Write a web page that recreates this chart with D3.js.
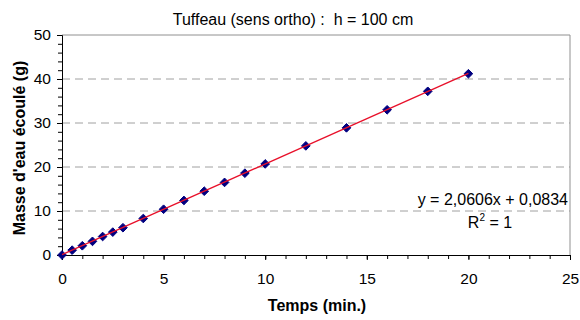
<!DOCTYPE html>
<html><head><meta charset="utf-8">
<script src="https://cdn.jsdelivr.net/npm/d3@7"></script>
<style>body{margin:0;background:#fff}svg{display:block}text{font-family:"Liberation Sans",Arial,sans-serif;white-space:pre}</style>
</head><body><svg id="c" width="580" height="320"></svg>
<script>
const title = "Tuffeau (sens ortho) :  h = 100 cm";
const xLabel = "Temps (min.)";
const yLabel = "Masse d'eau écoulé (g)";
const xTicks = [0, 5, 10, 15, 20, 25];
const yTicks = [0, 10, 20, 30, 40, 50];
const times = [0, 0.5, 1, 1.5, 2, 2.5, 3, 4, 5, 6, 7, 8, 9, 10, 12, 14, 16, 18, 20];
const masses = [0, 1.1, 2.1, 3.1, 4.2, 5.2, 6.2, 8.3, 10.4, 12.4, 14.5, 16.5, 18.6, 20.7, 24.8, 28.9, 33.0, 37.2, 41.2];
const slope = 2.0606, intercept = 0.0834;
const eqText = "y = 2,0606x + 0,0834";

const svg = d3.select("#c");
const L = 62, R = 570, T = 35, B = 255;
const x = d3.scaleLinear().domain([0, 25]).range([L, R]);
const y = d3.scaleLinear().domain([0, 50]).range([B, T]);

// grid
svg.append("g").selectAll("line").data(yTicks.filter(d => d > 0 && d < 50)).join("line")
  .attr("x1", L).attr("x2", R).attr("y1", d => y(d)).attr("y2", d => y(d))
  .attr("stroke", "#a0a0a0").attr("stroke-width", 1).attr("stroke-dasharray", "8,5");
// plot border top/right
svg.append("path").attr("d", `M${L},${T}H${R}V${B}`).attr("fill", "none").attr("stroke", "#909090").attr("stroke-width", 1);

// axes
const xMinor = d3.range(0, 26, 1);
const yMinor = d3.range(0, 51, 2);
const gx = svg.append("g").attr("transform", `translate(0,${B})`);
gx.call(d3.axisBottom(x).tickValues(xMinor).tickSize(4).tickFormat(""));
const gx2 = svg.append("g").attr("transform", `translate(0,${B})`);
gx2.call(d3.axisBottom(x).tickValues(xTicks).tickSize(5).tickPadding(13).tickFormat(d3.format("d")));
gx2.select(".domain").remove();
gx2.selectAll("text").attr("font-size", 15.5).attr("fill", "#000");

const gy = svg.append("g").attr("transform", `translate(${L},0)`);
gy.call(d3.axisLeft(y).tickValues(yMinor).tickSize(4).tickFormat(""));
const gy2 = svg.append("g").attr("transform", `translate(${L},0)`);
gy2.call(d3.axisLeft(y).tickValues(yTicks).tickSize(5).tickPadding(6).tickFormat(d3.format("d")));
gy2.select(".domain").remove();
gy2.selectAll("text").attr("font-size", 15.5).attr("fill", "#000");
svg.selectAll(".domain").attr("stroke", "#000");

// markers
const sym = d3.symbol().type(d3.symbolDiamond2).size(48);
svg.append("g").selectAll("path").data(times).join("path")
  .attr("transform", (d, i) => `translate(${x(d)},${y(masses[i])})`)
  .attr("d", sym).attr("fill", "#000080").attr("stroke", "#000080").attr("stroke-width", 1);

// trend line
svg.append("line")
  .attr("x1", x(0)).attr("y1", y(intercept))
  .attr("x2", x(20)).attr("y2", y(slope * 20 + intercept))
  .attr("stroke", "#e8102a").attr("stroke-width", 1.3);

// texts
svg.append("text").attr("x", 293).attr("y", 25).attr("text-anchor", "middle").attr("font-size", 16).text(title);
svg.append("text").attr("x", 317).attr("y", 311).attr("text-anchor", "middle").attr("font-size", 16).attr("font-weight", "bold").text(xLabel);
svg.append("text").attr("transform", "translate(25,148) rotate(-90)").attr("text-anchor", "middle").attr("font-size", 16).attr("font-weight", "bold").text(yLabel);
svg.append("text").attr("x", 568).attr("y", 205).attr("text-anchor", "end").attr("font-size", 16).text(eqText);
const r2 = svg.append("text").attr("x", 490).attr("y", 228).attr("text-anchor", "middle").attr("font-size", 16);
r2.append("tspan").text("R");
r2.append("tspan").attr("font-size", 10).attr("dy", -7).text("2");
r2.append("tspan").attr("dy", 7).text(" = 1");
</script></body></html>
